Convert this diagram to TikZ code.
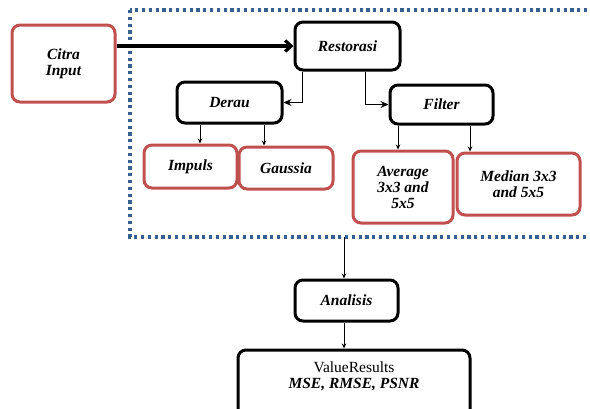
\documentclass[tikz,border=0pt]{standalone}
\usepackage{fontspec}
\setmainfont{Liberation Serif}
\usetikzlibrary{arrows.meta}
\definecolor{boxred}{RGB}{192,80,77}
\definecolor{dotblue}{RGB}{54,96,146}
\begin{document}
\begin{tikzpicture}[x = 1pt, y = -1pt,
    every node/.style = {shape = rectangle, rounded corners = 8pt, align = center,
                         font = \fontsize{15.5}{16}\selectfont\bfseries\itshape},
    blackbox/.style   = {draw = black, line width = 3pt},
    redbox/.style     = {draw = boxred, line width = 3pt},
    link/.style       = {line width = 0.9pt, -{Stealth[length = 5pt, width = 4.5pt]}},
    biglink/.style    = {line width = 1pt, -{Stealth[length = 8pt, width = 7pt]}}]
  \useasboundingbox (0,0) rectangle (590,408);
  % dotted frame round the restoration part
  \draw[dotblue, line width = 3.2pt, dash pattern = on 3.2pt off 3.6pt]
    (130,10) rectangle (594,237);
  \coordinate (framebottom) at (344,237);
  % boxes
  \node[redbox, minimum width = 103pt, minimum height = 77pt] (citra) at (63.5,63.5) {Citra\\Input};
  \node[blackbox, minimum width = 105pt, minimum height = 48pt] (restorasi) at (347.5,46) {Restorasi};
  \node[blackbox, minimum width = 105pt, minimum height = 41pt] (derau) at (229.5,102.5) {Derau};
  \node[blackbox, minimum width = 103pt, minimum height = 39pt] (filter) at (441.5,104.5) {Filter};
  \node[redbox, minimum width = 93pt, minimum height = 43pt] (impuls) at (190.5,166.5) {Impuls};
  \node[redbox, minimum width = 94pt, minimum height = 42pt] (gaussia) at (286,168) {Gaussia};
  \node[redbox, minimum width = 100pt, minimum height = 72pt] (average) at (403,187) {Average\\3x3 and\\5x5};
  \node[redbox, minimum width = 123pt, minimum height = 62pt] (median) at (518.5,184) {Median 3x3\\and 5x5};
  \node[blackbox, minimum width = 103pt, minimum height = 41pt] (analisis) at (346.5,300.5) {Analisis};
  \node[blackbox, minimum width = 232pt, minimum height = 70pt, text depth = 20pt] (hasil) at (354,385)
    {{\normalfont\fontsize{15.5}{18}\selectfont ValueResults}\\MSE, RMSE, PSNR};
  % connectors
  \draw[line width = 3.2pt, -{Straight Barb[length = 6pt, width = 11pt]}]
    (citra.east |- restorasi.west) -- (restorasi.west);
  \draw[biglink] ([xshift = -45.5pt]restorasi.south) |- (derau.east);
  \draw[biglink] ([xshift = 17.5pt]restorasi.south) |- (filter.west);
  \foreach \from/\dx/\to in {derau/-29.5/impuls, derau/34.5/gaussia,
                             filter/-43.5/average, filter/28.5/median}
  {
    \draw[link] ([xshift = \dx pt]\from.south) -- ([xshift = \dx pt]\from.south |- \to.north);
  }
  \draw[link] (framebottom) -- (framebottom |- analisis.north);
  \draw[link] (analisis.south -| framebottom) -- (framebottom |- hasil.north);
\end{tikzpicture}
\end{document}
